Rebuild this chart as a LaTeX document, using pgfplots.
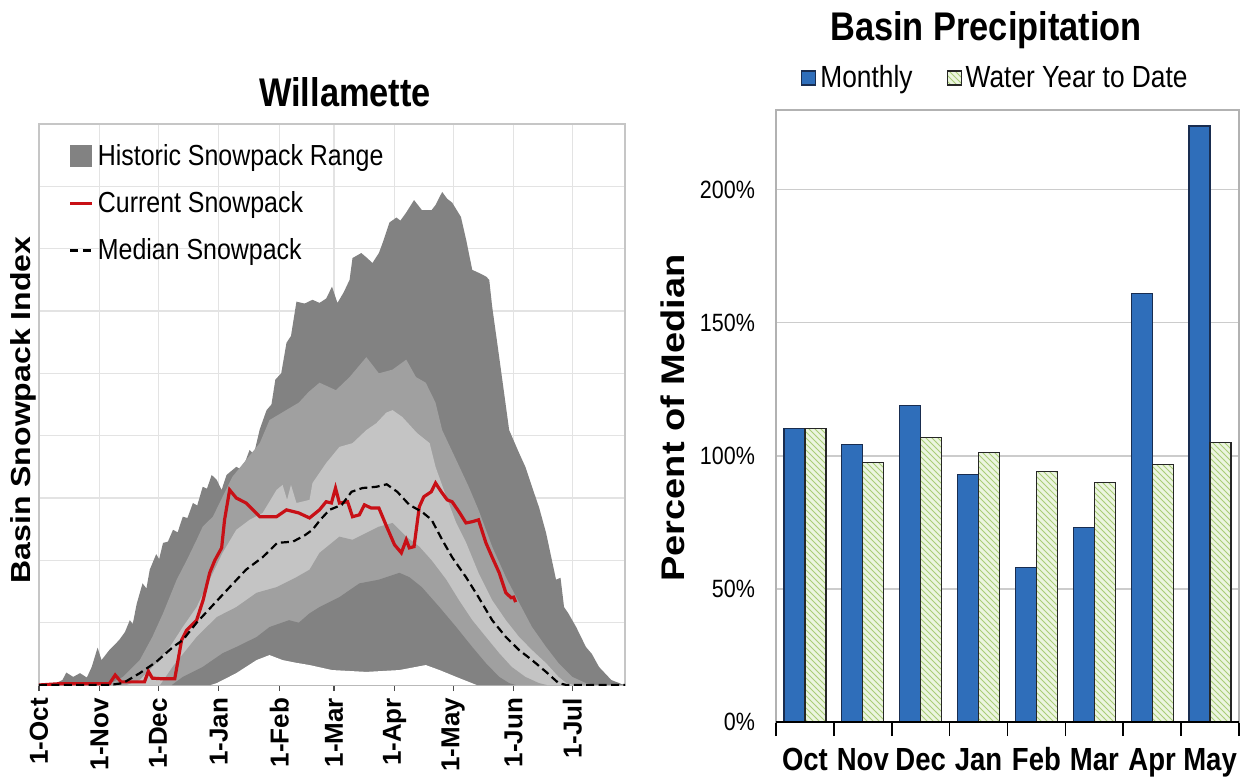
\documentclass[border=0pt]{standalone}
\usepackage{pgfplots}
\pgfplotsset{compat=1.18}
\usetikzlibrary{patterns}
\usepackage{fontspec}
\setmainfont[FakeStretch=0.86]{Liberation Sans}
\newfontfamily\rotfont{Liberation Sans}

\definecolor{gdark}{RGB}{130,130,130}
\definecolor{gmed}{RGB}{160,160,160}
\definecolor{glight}{RGB}{196,196,196}
\definecolor{curred}{RGB}{200,16,22}
\definecolor{barblue}{RGB}{47,110,186}
\definecolor{barblueedge}{RGB}{25,45,80}
\definecolor{hatchg}{RGB}{170,205,120}
\definecolor{hatchbg}{RGB}{236,245,224}

\pgfplotsset{
  boxleg/.style={legend image code/.code={\fill[gdark] (0pt,-5.5pt) rectangle (11pt,5.5pt);}},
  lineleg/.style={legend image code/.code={\draw[##1] (0pt,0pt) -- (11pt,0pt);}},
  barleg/.style={legend image code/.code={\draw[##1] (0pt,-3.5pt) rectangle (7pt,3.5pt);}},
}

\begin{document}
\begin{tikzpicture}
\useasboundingbox (0,0) rectangle (620.5pt,389pt);

% ---------------- Left: Willamette snowpack ----------------
\begin{axis}[
  at={(19.5pt,46.5pt)}, anchor=south west, scale only axis,
  width=293pt, height=280.5pt,
  xmin=0, xmax=300, ymin=0, ymax=9,
  xtick={0,31,61,92,123,151,182,212,243,273},
  xticklabels={1-Oct,1-Nov,1-Dec,1-Jan,1-Feb,1-Mar,1-Apr,1-May,1-Jun,1-Jul},
  xticklabel style={rotate=90, anchor=east, font=\rotfont\bfseries\fontsize{13}{13}\selectfont},
  ytick={0,1,...,9}, yticklabels={},
  grid=major, grid style={gray!22, line width=0.6pt},
  tick align=outside, tick pos=left,
  xtick style={black!70, line width=0.6pt}, ytick style={draw=none},
  major tick length=3pt,
  axis line style={gray!45, line width=0.6pt},
  legend cell align=left,
  legend style={at={(axis description cs:0.05,0.972)}, anchor=north west,
    draw=none, fill=none, inner sep=0pt, row sep=7.6pt,
    font=\fontsize{14.5}{16}\selectfont},
]
% max envelope
\addplot[fill=gdark, draw=none, boxleg] coordinates {
(0,0) (8,0.02) (12,0.08) (14,0.2) (17.5,0.13) (21,0.19) (24.5,0.12) (27,0.29)
(30,0.6) (32,0.4) (36,0.56) (41,0.72) (44,0.85) (46.5,1.04) (48,0.98) (50,1.3) (53,1.63) (55,1.55) (56.7,1.85)
(60,2.1) (61.5,2.02) (63.5,2.28) (66,2.3) (68.6,2.49) (71,2.45) (73.6,2.7) (76,2.68) (78.8,2.92) (81,2.88) (83.8,3.18) (86,3.15) (88.4,3.37)
(91,3.29) (93.5,3.13) (96,3.37) (101,3.5) (104,3.45) (107.8,3.77) (110,3.7) (113,4.1) (116.5,4.41)
(119,4.5) (121,4.9) (124,5.0) (126.7,5.49) (129,5.6) (131.8,6.15) (136,6.12) (140,6.18) (143.6,6.13) (147,6.2) (150,6.39)
(152.8,6.13) (156,6.3) (159,6.5) (160.5,6.85) (165,6.93) (168,6.85) (170.7,6.77) (174,6.93) (176,7.1) (179.4,7.42)
(183,7.5) (185,7.45) (188,7.58) (192,7.78) (196,7.62) (201,7.62) (203,7.7) (206.4,7.91) (209,7.8) (211.5,7.74)
(216,7.51) (218.7,7.14) (221.8,6.66) (226,6.6) (229,6.55) (230.5,6.5) (232,6.07)
(235.6,5.26) (240.7,4.09) (245.8,3.72) (249,3.5) (252.4,3.18) (256,2.85) (259.6,2.44) (264.7,1.69)
(267,1.72) (268.8,1.25) (271,1.15) (275,0.93) (280,0.61) (283,0.5) (286.7,0.29) (293,0.08) (299.5,0)
} \closedcycle;
\addlegendentry{Historic Snowpack Range}
% 90th
\addplot[fill=gmed, draw=none, forget plot] coordinates {
(30,0) (38,0.05) (43,0.13) (51.6,0.4) (58,0.77) (63.5,1.15) (70.5,1.69) (75.6,2.0)
(80.7,2.33) (83.8,2.54) (89,2.7) (94,3.02) (99,3.34) (106,3.61) (113,3.88) (118,4.25)
(126,4.4) (133,4.53) (138,4.7) (143.6,4.85) (152,4.73) (159,4.94) (167.6,5.26)
(174,5.0) (181,5.06) (188,5.22) (193,4.94) (198,4.85) (203,4.53) (206.4,4.09)
(213.6,3.61) (220,3.18) (225,2.81) (232,2.22) (239,1.73) (245.8,1.32) (252.4,0.93)
(259.6,0.61) (266,0.35) (273,0.13) (280,0.03) (285,0)
} \closedcycle;
% 70th
\addplot[fill=glight, draw=none, forget plot] coordinates {
(45,0) (51.6,0.08) (60,0.35) (67,0.61) (73.6,0.93) (80.7,1.25) (87.4,1.69) (94,2.12)
(101,2.49) (107.8,2.65) (114.5,2.76) (121.6,3.13) (124.7,3.21) (127,2.97) (129,3.21)
(131.8,2.92) (138.5,2.97) (140,3.24) (147,3.56) (153.8,3.82) (160.5,3.88) (167.6,4.09)
(172.7,4.2) (177.8,4.37) (181,4.41) (186,4.3) (193.6,4.04) (200,3.88) (203,3.5)
(208.5,3.02) (213.6,2.6) (218.7,2.28) (225,1.8) (232,1.36) (239,1.04) (245.8,0.77)
(252.4,0.56) (259.6,0.35) (266,0.13) (270,0.03) (274,0)
} \closedcycle;
% 30th
\addplot[fill=gmed, draw=none, forget plot] coordinates {
(62,0) (68.6,0.3) (80.7,0.77) (91,1.09) (101,1.25) (111.4,1.48) (121.6,1.57)
(131.8,1.73) (138.5,1.85) (143.6,2.12) (153.8,2.38) (160.5,2.33) (167.6,2.44)
(174,2.54) (181,2.6) (188,2.38) (194.7,2.22) (201,2.0) (208.5,1.69) (215,1.36)
(221.8,1.04) (228.8,0.77) (235.6,0.51) (242,0.29) (249,0.13) (256,0.03) (260,0)
} \closedcycle;
% 10th
\addplot[fill=gdark, draw=none, forget plot] coordinates {
(68,0) (73.6,0.13) (83.8,0.29) (94,0.51) (101,0.61) (111.4,0.77) (118,0.93)
(128,1.04) (133,1.0) (138.5,1.15) (143.6,1.25) (153.8,1.41) (164,1.63) (174,1.69)
(184.5,1.8) (189.6,1.73) (196,1.57) (205,1.25) (213.6,0.93) (221.8,0.61)
(228.8,0.35) (235.6,0.13) (240.7,0.03) (244,0)
} \closedcycle;
% min
\addplot[fill=white, draw=none, forget plot] coordinates {
(88,0) (91,0.03) (101,0.19) (111.4,0.4) (118,0.48) (124.7,0.4) (131,0.36)
(138.5,0.32) (150,0.24) (167.6,0.21) (184.5,0.24) (198,0.32) (205,0.24)
(213.6,0.13) (220,0.05) (224,0)
} \closedcycle;
% current
\addplot[curred, line width=1.6pt, lineleg] coordinates {
(0,0) (10,0.02) (36,0.02) (39,0.16) (42,0.05) (54,0.05) (56,0.22) (58,0.11)
(63,0.1) (69.5,0.1) (73,0.72) (75.6,0.88) (80.7,1.04) (84,1.36) (87.4,1.8)
(90,2.0) (93.5,2.2) (95,2.65) (97.6,3.13) (101,3.0) (106,2.92) (113,2.7)
(121.6,2.7) (126.7,2.81) (133,2.76) (138.5,2.68) (143.6,2.81) (147,2.94)
(149.7,2.92) (151.8,3.16) (153.8,2.92) (158,2.94) (160.5,2.7) (164,2.73)
(166.6,2.89) (170,2.84) (174,2.84) (178,2.54) (182,2.25) (185.5,2.12) (188,2.33)
(189.6,2.2) (192,2.22) (194.7,2.86) (197,3.02) (200.8,3.1) (203,3.24) (206.4,3.08)
(209,2.97) (211.5,2.94) (215,2.78) (218.6,2.6) (221.8,2.62) (225,2.65) (228.8,2.28)
(232,2.05) (235.6,1.8) (239,1.48) (241.7,1.4) (243,1.41) (244,1.33)
};
\addlegendentry{Current Snowpack}
% median
\addplot[black, line width=1.1pt, dash pattern=on 4pt off 2.2pt, lineleg] coordinates {
(0,0) (36,0) (43,0.03) (51.6,0.19) (60,0.37) (68.6,0.61) (73.6,0.72) (80.7,1.0)
(89,1.28) (97.6,1.57) (106,1.85) (114.5,2.05) (122,2.28) (130,2.3) (136,2.4)
(140,2.49) (144,2.65) (148.7,2.81) (155,2.89) (160,3.1) (165.6,3.16) (172.7,3.18)
(178,3.22) (183.4,3.1) (189.6,2.89) (196,2.78) (201,2.65) (206.4,2.33) (211.5,2.05)
(218.6,1.73) (225,1.41) (232,1.04) (239,0.77) (245.8,0.56) (252.4,0.4) (259.6,0.21)
(266,0.03) (270,0) (300,0)
};
\addlegendentry{Median Snowpack}
\end{axis}

% ---------------- Right: Basin Precipitation ----------------
\begin{axis}[
  at={(388pt,28pt)}, anchor=south west, scale only axis,
  width=231.5pt, height=306pt,
  xmin=-0.5, xmax=7.5, ymin=0, ymax=230,
  tick pos=left, tick align=outside,
  xtick={-0.5,0.5,...,7.5},
  x tick label as interval,
  xticklabels={Oct,Nov,Dec,Jan,Feb,Mar,Apr,May},
  xticklabel style={font=\bfseries\fontsize{16}{16}\selectfont, text height=11.5pt, text depth=3pt, yshift=-2pt},
  xtick style={draw=black, line width=0.8pt},
  major tick length=7pt,
  ytick={0,50,100,150,200},
  yticklabels={0\%,50\%,100\%,150\%,200\%},
  yticklabel style={font=\fontsize{12.5}{13}\selectfont},
  ytick style={draw=none},
  ymajorgrids, grid style={gray!40, line width=0.6pt},
  axis line style={gray!60, line width=0.6pt},
  legend columns=2,
  legend style={at={(axis description cs:0.476,1)}, anchor=center, yshift=16pt,
    draw=none, fill=none, inner sep=0pt,
    font=\fontsize{15.3}{16}\selectfont,
    /tikz/every even column/.append style={column sep=15pt}},
]
\addplot[ybar, bar width=10.5pt, bar shift=-5.25pt, fill=barblue, draw=barblueedge, line width=0.6pt, barleg]
  coordinates {(0,110.3) (1,104.3) (2,119) (3,93) (4,58.2) (5,73.2) (6,161) (7,224)};
\addlegendentry{Monthly}
\addplot[ybar, bar width=10.5pt, bar shift=5.25pt, fill=hatchbg, draw=black!85, line width=0.6pt,
  postaction={pattern=north west lines, pattern color=hatchg}, barleg]
  coordinates {(0,110.3) (1,97.6) (2,107) (3,101.3) (4,94.2) (5,90) (6,96.8) (7,105)};
\addlegendentry{Water Year to Date}
\draw[black, line width=0.9pt] (rel axis cs:0,0) -- (rel axis cs:1,0);
\end{axis}

% titles and axis labels
\node[font=\bfseries\fontsize{20}{20}\selectfont] at (172.5pt,343pt) {Willamette};
\node[font=\bfseries\fontsize{20}{20}\selectfont] at (493pt,374pt) {Basin Precipitation};
\node[rotate=90, font=\rotfont\bfseries\fontsize{16}{16}\selectfont] at (11.5pt,184pt) {\scalebox{1}[0.86]{Basin Snowpack Index}};
\node[rotate=90, font=\rotfont\bfseries\fontsize{19}{19}\selectfont] at (336.5pt,180pt) {\scalebox{1}[0.86]{Percent of Median}};
\end{tikzpicture}
\end{document}
